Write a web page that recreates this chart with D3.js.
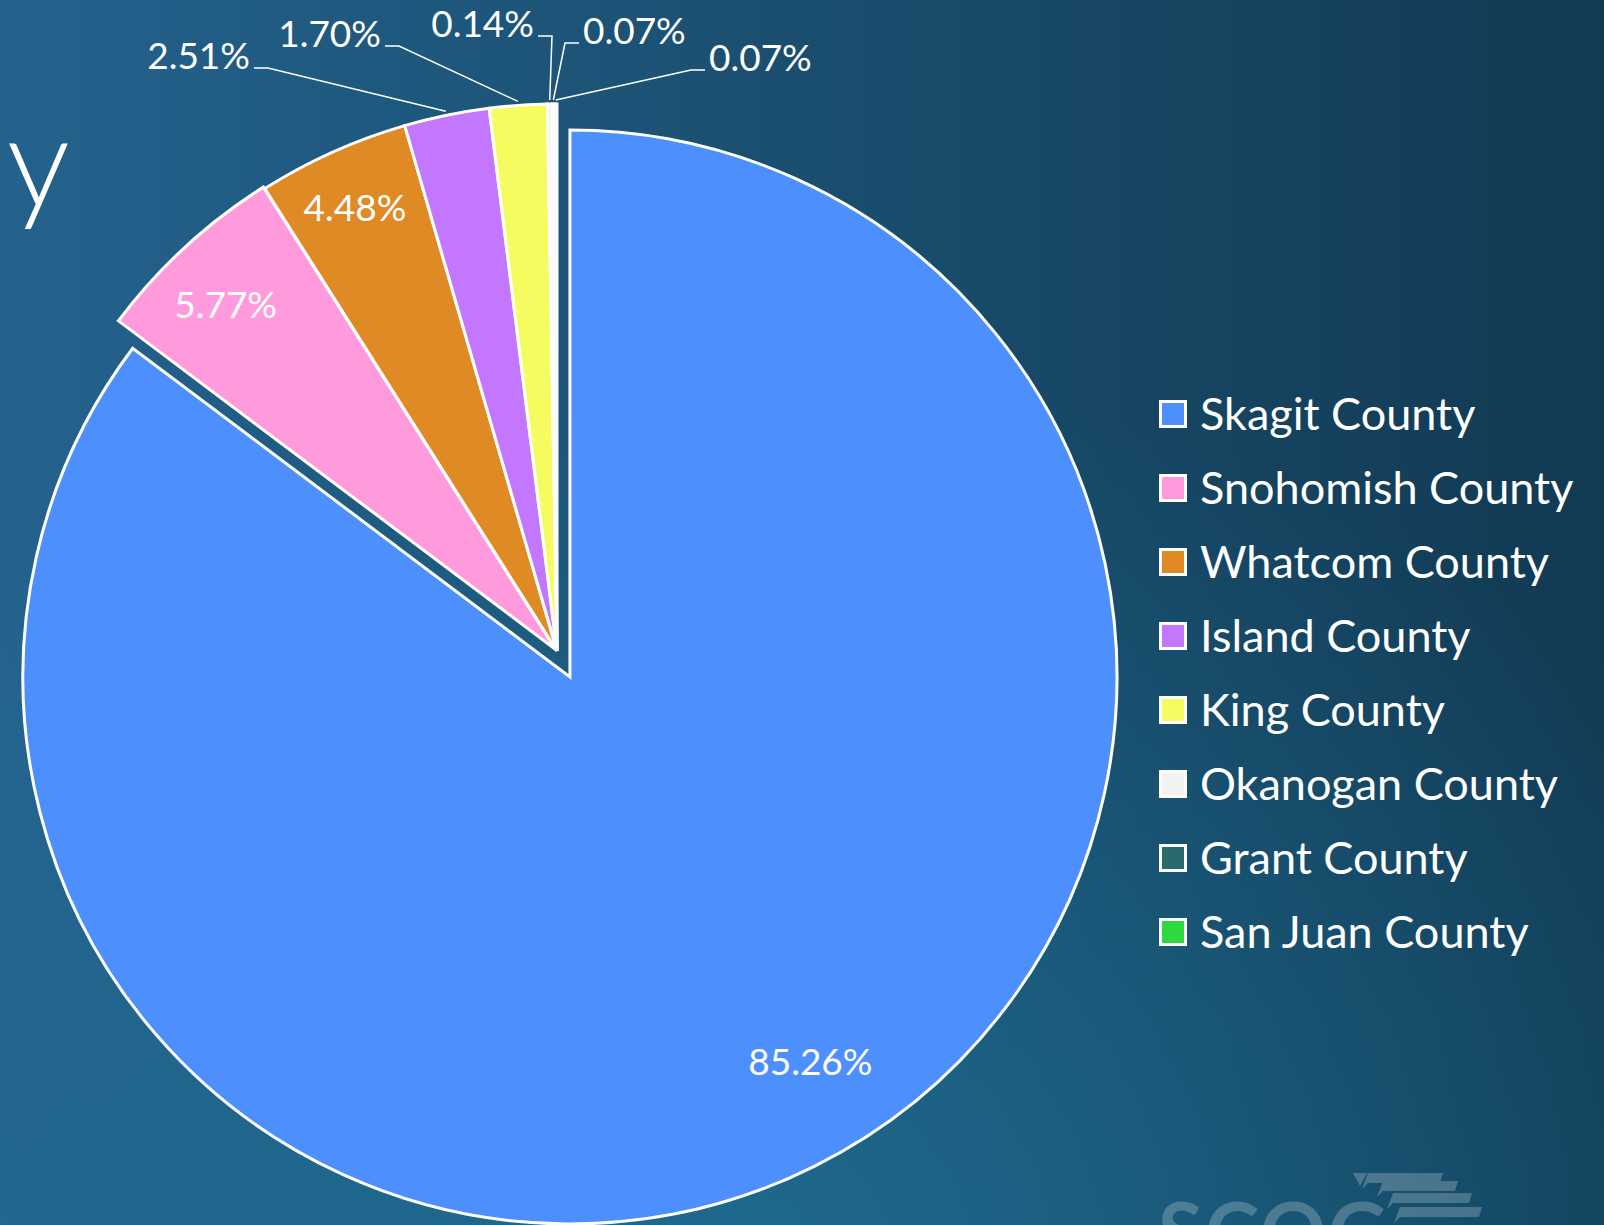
<!DOCTYPE html>
<html>
<head>
<meta charset="utf-8">
<script src="https://cdn.jsdelivr.net/npm/d3@7"></script>
<style>
  html, body { margin: 0; padding: 0; background: #113a53; overflow: hidden; }
  svg { display: block; }
  text { font-family: Lato, "Open Sans", sans-serif; fill: #ffffff; }
</style>
</head>
<body>
<script>
// County share pie chart (exploded first slice) with legend on the right

// 1. Data
var counties = ["Skagit County", "Snohomish County", "Whatcom County", "Island County",
                "King County", "Okanogan County", "Grant County", "San Juan County"];
var shares = [85.26, 5.77, 4.48, 2.51, 1.70, 0.14, 0.07, 0.07];
var shareLabels = ["85.26%", "5.77%", "4.48%", "2.51%", "1.70%", "0.14%", "0.07%", "0.07%"];
var colors = ["#4e8ffe", "#ff9bdc", "#df8a24", "#c376fe", "#f5fc5f", "#f2f2f2", "#2a6a6d", "#30d840"];

// 2. Size / layout
var outWidth = 1604, outHeight = 1225;
var cx = 557, cy = 651, radius = 547;
// how far each slice is pulled out of the centre
var explode = function(i) { return i === 0 ? 29 : (i === 1 ? 2 : 0); };
// outside labels for the thin slices: elbow point of the leader line + side
var outside = {
  3: {ex: 268, ey: 68, side: "left"},
  4: {ex: 399, ey: 46, side: "left"},
  5: {ex: 552, ey: 36, side: "left"},
  6: {ex: 565, ey: 43, side: "right"},
  7: {ex: 691, ey: 70, side: "right"}
};

var svg = d3.select("body")
  .append("svg")
  .attr("width", outWidth)
  .attr("height", outHeight);

// 3. Background gradients
var defs = svg.append("defs");
var bg = defs.append("linearGradient")
  .attr("id", "bg")
  .attr("x1", 0).attr("y1", 0).attr("x2", 1).attr("y2", 0);
bg.append("stop").attr("offset", "0%").attr("stop-color", "#24628d");
bg.append("stop").attr("offset", "45%").attr("stop-color", "#1b5072");
bg.append("stop").attr("offset", "100%").attr("stop-color", "#113a53");

var glow = defs.append("radialGradient")
  .attr("id", "glow")
  .attr("cx", 0.45).attr("cy", 1.05).attr("r", 0.75);
glow.append("stop").attr("offset", "0%").attr("stop-color", "#1f7398").attr("stop-opacity", 0.75);
glow.append("stop").attr("offset", "100%").attr("stop-color", "#1f7398").attr("stop-opacity", 0);

svg.append("rect").attr("width", outWidth).attr("height", outHeight).attr("fill", "url(#bg)");
svg.append("rect").attr("width", outWidth).attr("height", outHeight).attr("fill", "url(#glow)");

// cut off title letter on the left edge
svg.append("text")
  .attr("x", 70)
  .attr("y", 207)
  .attr("text-anchor", "end")
  .style("font-size", "126px")
  .style("font-weight", 300)
  .text("y");

// faded logo bottom right (runs off the bottom edge, as in the slide)
var logo = svg.append("g").attr("opacity", 0.22);
logo.append("text")
  .attr("x", 1158)
  .attr("y", 1262)
  .style("font-size", "82px")
  .style("font-weight", 700)
  .style("letter-spacing", "2px")
  .text("SCOG");
var stripes = [[1368, 1173, 75], [1383, 1181, 75], [1393, 1193, 79], [1400, 1207, 82]];
logo.selectAll(".stripe")
  .data(stripes)
  .enter().append("path")
  .attr("class", "stripe")
  .attr("fill", "#ffffff")
  .attr("d", function(s) {
    return "M" + s[0] + "," + s[1] + "h" + s[2] + "l-3,10h" + (-s[2] + 3) + "l-6,6z";
  });
logo.append("path").attr("fill", "#ffffff").attr("d", "M1353,1173h14l-7,13z");

// 4. Pie
var pie = d3.pie().sort(null).value(function(d) { return d; });
var arcs = pie(shares);
var arc = d3.arc().innerRadius(0).outerRadius(radius);
var mid = function(d) { return (d.startAngle + d.endAngle) / 2; };
var shift = function(d, i) {
  var a = mid(d), e = explode(i);
  return [Math.sin(a) * e, -Math.cos(a) * e];
};

var g = svg.append("g")
  .attr("transform", "translate(" + cx + "," + cy + ")");

g.selectAll(".slice")
  .data(arcs)
  .enter().append("path")
  .attr("class", "slice")
  .attr("transform", function(d, i) { var s = shift(d, i); return "translate(" + s[0] + "," + s[1] + ")"; })
  .attr("d", arc)
  .attr("fill", function(d, i) { return colors[i]; })
  .attr("stroke", "#ffffff")
  .attr("stroke-width", 3)
  .attr("stroke-linejoin", "miter");

// labels inside the three largest slices
var inside = [
  {i: 0, rf: 0.83, da: -0.095, dy: "0.35em"},
  {i: 1, rf: 0.89, da: 0, dy: "0.7em"},
  {i: 2, rf: 0.9, da: 0, dy: "0.5em"}
];
g.selectAll(".inlabel")
  .data(inside)
  .enter().append("text")
  .attr("class", "inlabel")
  .attr("text-anchor", "middle")
  .attr("dy", function(o) { return o.dy; })
  .style("font-size", "37px")
  .attr("x", function(o) {
    var d = arcs[o.i], s = shift(d, o.i), a = mid(d) + o.da;
    return s[0] + Math.sin(a) * radius * o.rf;
  })
  .attr("y", function(o) {
    var d = arcs[o.i], s = shift(d, o.i), a = mid(d) + o.da;
    return s[1] - Math.cos(a) * radius * o.rf;
  })
  .text(function(o) { return shareLabels[o.i]; });

// leader lines + labels for thin slices
var outKeys = Object.keys(outside).map(Number);
outKeys.forEach(function(i) {
  var d = arcs[i], o = outside[i], a = mid(d);
  var px = Math.sin(a) * (radius + 4), py = -Math.cos(a) * (radius + 4);
  var ex = o.ex - cx, ey = o.ey - cy;
  var hx = o.side === "left" ? ex - 14 : ex + 14;
  g.append("polyline")
    .attr("points", [[hx, ey], [ex, ey], [px, py]].map(function(p) { return p.join(","); }).join(" "))
    .attr("fill", "none")
    .attr("stroke", "#ffffff")
    .attr("stroke-width", 1.5);
  g.append("text")
    .attr("x", o.side === "left" ? hx - 4 : hx + 4)
    .attr("y", ey + 1)
    .attr("text-anchor", o.side === "left" ? "end" : "start")
    .style("font-size", "37px")
    .text(shareLabels[i]);
});

// 5. Legend
var legend = svg.selectAll(".legend")
  .data(counties)
  .enter().append("g")
  .attr("class", "legend")
  .attr("transform", function(d, i) { return "translate(1159," + (414 + i * 74) + ")"; });

legend.append("rect")
  .attr("x", 1.5)
  .attr("y", -12.5)
  .attr("width", 25)
  .attr("height", 25)
  .attr("fill", function(d, i) { return colors[i]; })
  .attr("stroke", "#ffffff")
  .attr("stroke-width", 3);

legend.append("text")
  .attr("x", 41)
  .attr("dy", "0.36em")
  .style("font-size", "45px")
  .text(function(d) { return d; });
</script>
</body>
</html>
